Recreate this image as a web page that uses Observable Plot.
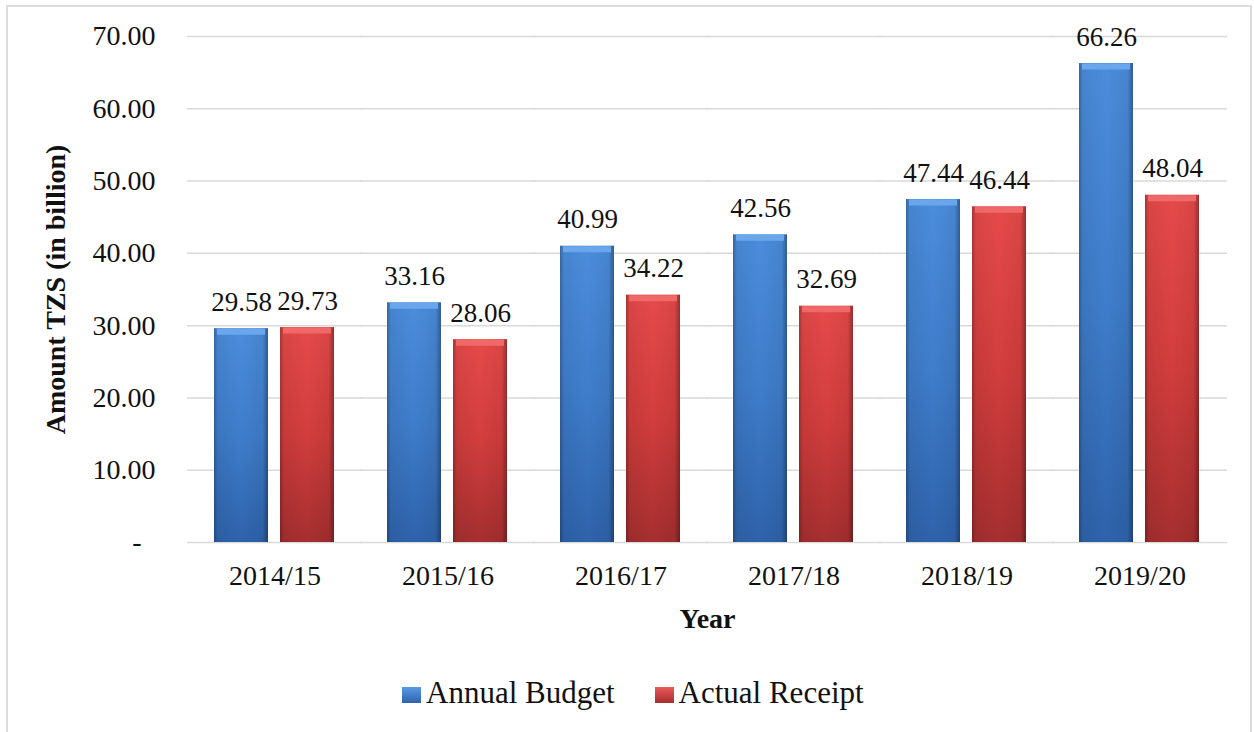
<!DOCTYPE html>
<html>
<head>
<meta charset="utf-8">
<script src="https://cdn.jsdelivr.net/npm/d3@7"></script>
<script src="https://cdn.jsdelivr.net/npm/@observablehq/plot@0.6"></script>
<style>
  html, body { margin: 0; padding: 0; background: #fff; }
  body { width: 1254px; height: 732px; overflow: hidden; position: relative; font-family: 'Liberation Serif', 'Times New Roman', serif; }
  .frame { position: absolute; left: 6px; top: 5px; width: 1242px; height: 800px; border: 2px solid #dcdcdc; box-sizing: content-box; }
  #chart { position: absolute; left: 0; top: 0; }
  #chart svg { display: block; }
  .legend { margin-top: 7px; padding-left: 402px; display: flex; align-items: center; font-size: 31px; line-height: 31px; color: #111; }
  .legend .item { display: flex; align-items: center; }
  .legend .item + .item { margin-left: 40px; }
  .legend .sw { width: 19px; height: 16px; margin-right: 5px; margin-top: 4px; }
</style>
</head>
<body>
<div class="frame"></div>
<div id="chart"></div>
<script>
// Fiscal years on the category axis
const years = ["2014/15", "2015/16", "2016/17", "2017/18", "2018/19", "2019/20"];
// Series names
const series = ["Annual Budget", "Actual Receipt"];
// Amounts in TZS billion
const budget = [29.58, 33.16, 40.99, 42.56, 47.44, 66.26];
const receipt = [29.73, 28.06, 34.22, 32.69, 46.44, 48.04];
// Value axis ticks
const yTicks = [0, 10, 20, 30, 40, 50, 60, 70];

const rows = years.flatMap((year, i) => [
  {year, series: series[0], value: budget[i]},
  {year, series: series[1], value: receipt[i]}
]);

const tickText = d => d === 0 ? "-\u2007" : d.toFixed(2);
const isBudget = d => d.series === series[0];
const isReceipt = d => d.series === series[1];

const chart = Plot.plot({
  width: 1254,
  height: 670,
  marginLeft: 188,
  marginRight: 28,
  marginTop: 36,
  marginBottom: 128,
  style: {
    fontFamily: "'Liberation Serif', 'Times New Roman', serif",
    fontSize: "28px",
    color: "#111",
    background: "transparent"
  },
  fx: {domain: years, paddingInner: 0.3, paddingOuter: 0.15, label: null},
  x: {domain: series, paddingInner: 0.18, paddingOuter: 0, axis: null},
  y: {domain: [0, 70]},
  marks: [
    // horizontal gridlines, stretched over the gaps between year groups
    Plot.ruleY(yTicks, {stroke: "#d9d9d9", strokeWidth: 1.5, insetLeft: -27, insetRight: -27}),
    // value axis, drawn beside the first year group
    Plot.axisY({ticks: yTicks, tickFormat: tickText, tickSize: 0, tickPadding: 59, label: null, fontSize: 28}),
    // year labels under each group
    Plot.axisFx({anchor: "bottom", tickSize: 0, tickPadding: 23, label: null, fontSize: 28}),
    // bars
    Plot.barY(rows, {filter: isBudget, fx: "year", x: "series", y: "value", fill: "url(#gBlue)"}),
    Plot.barY(rows, {filter: isReceipt, fx: "year", x: "series", y: "value", fill: "url(#gRed)"}),
    // darker side edges for the bevelled look
    Plot.barY(rows, {fx: "year", x: "series", y: "value", fill: "url(#gEdge)"}),
    // light bevel along the top of each bar
    Plot.tickY(rows, {filter: isBudget, fx: "year", x: "series", y: "value", stroke: "#6aa6ec", strokeWidth: 6, dy: 3, insetLeft: 3, insetRight: 3}),
    Plot.tickY(rows, {filter: isReceipt, fx: "year", x: "series", y: "value", stroke: "#f06868", strokeWidth: 6, dy: 3, insetLeft: 3, insetRight: 3}),
    // value labels
    Plot.text(rows, {fx: "year", x: "series", y: "value", text: d => d.value.toFixed(2), lineAnchor: "bottom", dy: -18, fontSize: 27, fill: "#111"}),
    // axis titles
    Plot.text(["Year"], {text: d => d, frameAnchor: "bottom", lineAnchor: "bottom", dy: 85, fontWeight: "bold", fontSize: 28, facet: "super"}),
    Plot.text(["Amount TZS (in billion)"], {text: d => d, frameAnchor: "left", textAnchor: "middle", lineAnchor: "middle", rotate: -90, dx: -158, fontWeight: "bold", fontSize: 28, facet: "super"})
  ]
});

// gradient definitions used by the bar fills
const defs = d3.select(chart).insert("defs", ":first-child");
function vGrad(id, stops) {
  const g = defs.append("linearGradient").attr("id", id).attr("x1", 0).attr("y1", 0).attr("x2", 0).attr("y2", 1);
  stops.forEach(([o, c]) => g.append("stop").attr("offset", o).attr("stop-color", c));
}
vGrad("gBlue", [[0, "#4b8ddc"], [0.5, "#3f7dcb"], [1, "#2e63ab"]]);
vGrad("gRed", [[0, "#e64a4a"], [0.5, "#d23d3d"], [1, "#a62f2f"]]);
const edge = defs.append("linearGradient").attr("id", "gEdge").attr("x1", 0).attr("y1", 0).attr("x2", 1).attr("y2", 0);
[[0, 0.28], [0.07, 0.06], [0.5, 0], [0.9, 0.06], [1, 0.35]].forEach(([o, a]) =>
  edge.append("stop").attr("offset", o).attr("stop-color", "#000").attr("stop-opacity", a));

document.getElementById("chart").appendChild(chart);

// legend below the chart
const legend = document.createElement("div");
legend.className = "legend";
const swatchFill = ["linear-gradient(#5a9ae6, #2e63ab)", "linear-gradient(#ec5a5a, #a62f2f)"];
series.forEach((name, i) => {
  const item = document.createElement("div");
  item.className = "item";
  const sw = document.createElement("span");
  sw.className = "sw";
  sw.style.background = swatchFill[i];
  const label = document.createElement("span");
  label.textContent = name;
  item.appendChild(sw);
  item.appendChild(label);
  legend.appendChild(item);
});
document.getElementById("chart").appendChild(legend);
</script>
</body>
</html>
